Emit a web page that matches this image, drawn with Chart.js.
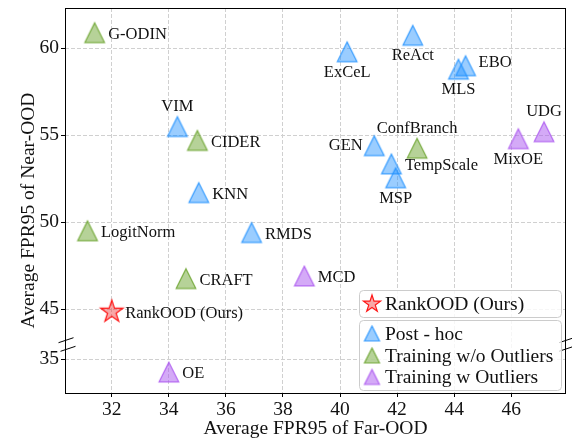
<!DOCTYPE html>
<html>
<head>
<meta charset="utf-8">
<script src="https://cdn.jsdelivr.net/npm/chart.js@4.4.1/dist/chart.umd.min.js"></script>
<style>
  html, body { margin: 0; padding: 0; background: #fff; }
  #wrap { width: 572px; height: 438px; }
</style>
</head>
<body>
<div id="wrap"><canvas id="chart"></canvas></div>
<script>
// values
const methods = ["RankOOD (Ours)", "G-ODIN", "VIM", "CIDER", "KNN", "LogitNorm", "RMDS", "CRAFT", "OE", "MCD",
  "ExCeL", "ReAct", "EBO", "MLS", "GEN", "ConfBranch", "TempScale", "MSP", "MixOE", "UDG"];
const farOOD = [32.0, 31.4, 34.3, 35.0, 35.05, 31.15, 36.9, 34.6, 34.0, 38.75,
  40.25, 42.55, 44.4, 44.15, 41.2, 42.7, 41.8, 41.95, 46.25, 47.15];
const nearOOD = [44.84, 60.9, 55.5, 54.7, 51.7, 49.5, 49.4, 46.75, 34.25, 46.9,
  59.8, 60.75, 59.0, 58.8, 54.4, 54.25, 53.35, 52.55, 54.8, 55.2];
const methodGroup = ["ours", "wo", "post", "wo", "post", "wo", "post", "wo", "w", "w",
  "post", "post", "post", "post", "post", "wo", "post", "post", "w", "w"];
const labelSide = ["right", "right", "top", "right", "right", "right", "right", "right", "right", "right",
  "bottom", "bottom", "rightUp", "bottom", "left", "top", "right", "bottom", "bottom", "top"];

const groupKeys = ["ours", "post", "wo", "w"];
const groupNames = ["RankOOD (Ours)", "Post - hoc", "Training w/o Outliers", "Training w Outliers"];

const xTicks = [32, 34, 36, 38, 40, 42, 44, 46];
const yTicks = [35, 45, 50, 55, 60];

// broken y axis: values below the break are shifted up
const Y_BREAK = 40;
const Y_SHIFT = 7.123;
const toAxis = (v) => (v >= Y_BREAK ? v : v + Y_SHIFT);
const fromAxis = (v) => (v > 43.5 ? v : v - Y_SHIFT);

const SERIF = '"Liberation Serif", serif';

function triangleMarker(half, fill, edge) {
  const s = Math.ceil(half * 2 + 6);
  const cv = document.createElement("canvas");
  cv.width = s; cv.height = s;
  const g = cv.getContext("2d");
  const c = s / 2;
  g.beginPath();
  g.moveTo(c, c - half);
  g.lineTo(c + half, c + half);
  g.lineTo(c - half, c + half);
  g.closePath();
  g.fillStyle = fill;
  g.fill();
  g.lineWidth = 1.2;
  g.strokeStyle = edge;
  g.stroke();
  return cv;
}

function starMarker(R, fill, edge) {
  const s = Math.ceil(R * 2 + 6);
  const cv = document.createElement("canvas");
  cv.width = s; cv.height = s;
  const g = cv.getContext("2d");
  const c = s / 2;
  g.beginPath();
  for (let i = 0; i < 10; i++) {
    const a = -Math.PI / 2 + i * Math.PI / 5;
    const r = i % 2 === 0 ? R : R * 0.381966;
    const px = c + Math.cos(a) * r, py = c + Math.sin(a) * r;
    if (i === 0) g.moveTo(px, py); else g.lineTo(px, py);
  }
  g.closePath();
  g.fillStyle = fill;
  g.fill();
  g.lineWidth = 1.2;
  g.strokeStyle = edge;
  g.stroke();
  return cv;
}

const groupColors = {
  ours: { fill: "rgba(240, 60, 60, 0.45)", edge: "rgba(255, 0, 0, 0.9)" },
  post: { fill: "rgba(30, 144, 255, 0.45)", edge: "rgba(30, 144, 255, 0.85)" },
  wo: { fill: "rgba(110, 165, 50, 0.5)", edge: "rgba(110, 165, 50, 0.9)" },
  w: { fill: "rgba(170, 85, 240, 0.5)", edge: "rgba(170, 85, 240, 0.85)" },
};

function makeMarker(key, small) {
  const col = groupColors[key];
  if (key === "ours") return starMarker(small ? 9 : 11.8, col.fill, col.edge);
  return triangleMarker(small ? 7.5 : 9.8, col.fill, col.edge);
}

const datasets = groupKeys.map((key, gi) => ({
  label: groupNames[gi],
  data: methods
    .map((m, i) => ({ x: farOOD[i], y: toAxis(nearOOD[i]), name: m, side: labelSide[i], g: methodGroup[i] }))
    .filter((p) => p.g === key),
  pointStyle: makeMarker(key, false),
  pointRadius: 11,
  order: gi,
}));

const labelOffsets = {
  right: { dx: 13.5, dy: 2, align: "left" },
  rightUp: { dx: 13, dy: -3.5, align: "left" },
  left: { dx: -11.5, dy: 0, align: "right" },
  top: { dx: 0, dy: -20, align: "center" },
  bottom: { dx: 0, dy: 20.5, align: "center" },
};

const pointLabels = {
  id: "pointLabels",
  afterDatasetsDraw(chart) {
    const ctx = chart.ctx;
    ctx.save();
    ctx.font = `16.5px ${SERIF}`;
    ctx.fillStyle = "#111";
    ctx.textBaseline = "middle";
    chart.data.datasets.forEach((ds, di) => {
      const meta = chart.getDatasetMeta(di);
      meta.data.forEach((el, i) => {
        const p = ds.data[i];
        const o = labelOffsets[p.side];
        ctx.textAlign = o.align;
        ctx.fillText(p.name, el.x + o.dx, el.y + o.dy);
      });
    });
    ctx.restore();
  },
};

function roundBox(ctx, x, y, w, h, r) {
  ctx.beginPath();
  ctx.moveTo(x + r, y);
  ctx.arcTo(x + w, y, x + w, y + h, r);
  ctx.arcTo(x + w, y + h, x, y + h, r);
  ctx.arcTo(x, y + h, x, y, r);
  ctx.arcTo(x, y, x + w, y, r);
  ctx.closePath();
  ctx.fillStyle = "rgba(255, 255, 255, 0.8)";
  ctx.fill();
  ctx.strokeStyle = "#cccccc";
  ctx.lineWidth = 1;
  ctx.stroke();
}

const frameAndLegend = {
  id: "frameAndLegend",
  afterDraw(chart) {
    const ctx = chart.ctx;
    const a = chart.chartArea;
    ctx.save();
    // axes frame
    ctx.strokeStyle = "#000";
    ctx.lineWidth = 1;
    ctx.strokeRect(Math.round(a.left) + 0.5, Math.round(a.top) + 0.5,
      Math.round(a.right - a.left) - 1, Math.round(a.bottom - a.top));

    // break marks on both spines
    const yScale = chart.scales.y;
    const yb = (yScale.getPixelForValue(toAxis(45)) + yScale.getPixelForValue(toAxis(35))) / 2 + 10.5;
    [a.left + 1, a.right + 0.5].forEach((sx) => {
      [-4.3, 4.3].forEach((off, k) => {
        const cx = sx + (k === 1 && sx < 100 ? 2 : 0);
        ctx.beginPath();
        ctx.moveTo(cx - 7.5, yb + off + 2.5);
        ctx.lineTo(cx + 7.5, yb + off - 2.5);
        ctx.stroke();
      });
    });

    // axis titles
    ctx.fillStyle = "#111";
    ctx.font = `19.5px ${SERIF}`;
    ctx.textAlign = "center";
    ctx.textBaseline = "alphabetic";
    ctx.fillText("Average FPR95 of Far-OOD", (a.left + a.right) / 2, 434);
    ctx.save();
    ctx.translate(33.5, 210.5);
    ctx.rotate(-Math.PI / 2);
    ctx.fillText("Average FPR95 of Near-OOD", 0, 0);
    ctx.restore();

    // legend: two framed boxes
    roundBox(ctx, 359.5, 290.5, 202, 27, 4);
    roundBox(ctx, 359.5, 320.5, 202, 70, 4);
    ctx.textAlign = "left";
    ctx.textBaseline = "middle";
    const rows = [
      { key: "ours", y: 304 },
      { key: "post", y: 333.5 },
      { key: "wo", y: 355.5 },
      { key: "w", y: 377 },
    ];
    rows.forEach((row) => {
      const m = makeMarker(row.key, true);
      ctx.drawImage(m, 372 - m.width / 2, row.y - m.height / 2);
      ctx.fillStyle = "#111";
      ctx.fillText(groupNames[groupKeys.indexOf(row.key)], 385, row.y + 1);
    });
    ctx.restore();
  },
};

const tickFont = { family: SERIF, size: 19.5 };
const noEdgePadding = (scale) => {
  scale.paddingTop = 0; scale.paddingBottom = 0;
  scale.paddingLeft = 0; scale.paddingRight = 0;
};

new Chart(document.getElementById("chart"), {
  type: "scatter",
  data: { datasets },
  options: {
    responsive: true,
    maintainAspectRatio: false,
    animation: false,
    events: [],
    layout: { autoPadding: false, padding: { top: 8, right: 6, bottom: 0, left: 0 } },
    plugins: { legend: { display: false }, tooltip: { enabled: false } },
    scales: {
      x: {
        type: "linear",
        min: 30.36,
        max: 47.92,
        afterBuildTicks: (scale) => { scale.ticks = xTicks.map((v) => ({ value: v })); },
        afterFit: (scale) => { scale.height = 45; noEdgePadding(scale); },
        ticks: { font: tickFont, color: "#111", padding: 1, maxRotation: 0, autoSkip: false },
        grid: { color: "#d0d0d0", lineWidth: 1, tickLength: 4, tickColor: "#000", tickWidth: 1,
          borderDash: [4, 2], tickBorderDash: [] },
        border: { display: false, dash: [4, 2] },
      },
      y: {
        type: "linear",
        min: 40.167,
        max: 62.32,
        afterBuildTicks: (scale) => { scale.ticks = yTicks.map((v) => ({ value: toAxis(v) })); },
        afterFit: (scale) => { scale.width = 65; noEdgePadding(scale); },
        ticks: {
          font: tickFont, color: "#111", padding: 2, autoSkip: false,
          callback: (value) => String(Math.round(fromAxis(value))),
        },
        grid: { color: "#d0d0d0", lineWidth: 1, tickLength: 4, tickColor: "#000", tickWidth: 1,
          borderDash: [4, 2], tickBorderDash: [] },
        border: { display: false, dash: [4, 2] },
      },
    },
  },
  plugins: [pointLabels, frameAndLegend],
});
</script>
</body>
</html>
